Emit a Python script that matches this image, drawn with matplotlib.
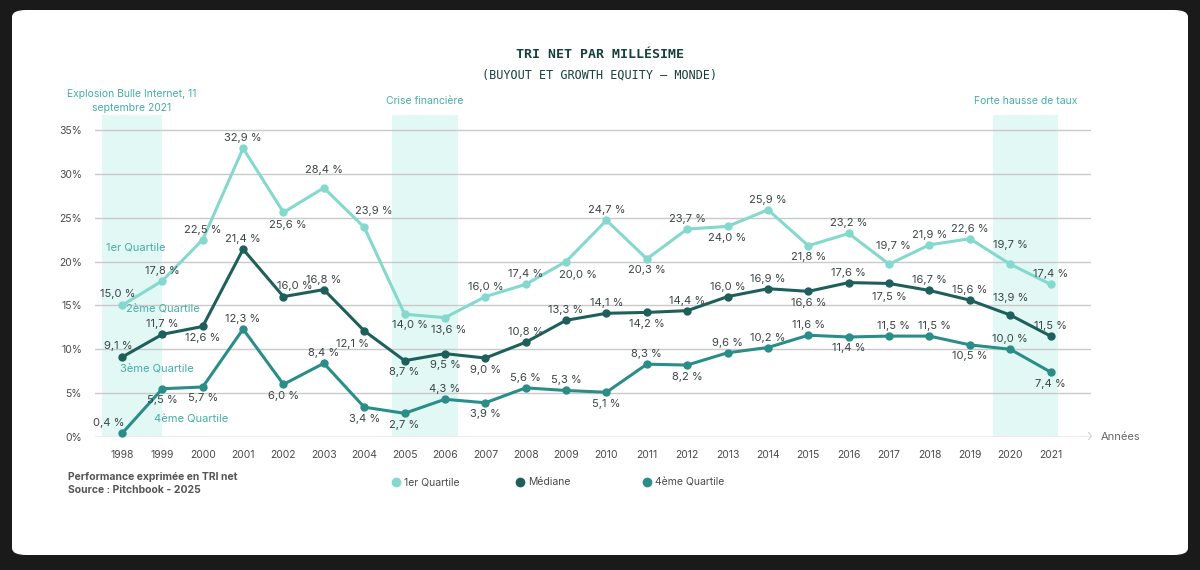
import matplotlib.pyplot as plt
from matplotlib.patches import FancyBboxPatch
from matplotlib.lines import Line2D

years = list(range(1998, 2022))

q1 = [15.0, 17.8, 22.5, 32.9, 25.6, 28.4, 23.9, 14.0, 13.6, 16.0, 17.4, 20.0,
      24.7, 20.3, 23.7, 24.0, 25.9, 21.8, 23.2, 19.7, 21.9, 22.6, 19.7, 17.4]
median = [9.1, 11.7, 12.6, 21.4, 16.0, 16.8, 12.1, 8.7, 9.5, 9.0, 10.8, 13.3,
          14.1, 14.2, 14.4, 16.0, 16.9, 16.6, 17.6, 17.5, 16.7, 15.6, 13.9, 11.5]
q4 = [0.4, 5.5, 5.7, 12.3, 6.0, 8.4, 3.4, 2.7, 4.3, 3.9, 5.6, 5.3,
      5.1, 8.3, 8.2, 9.6, 10.2, 11.6, 11.4, 11.5, 11.5, 10.5, 10.0, 7.4]

# where the value label goes: a = above, b = below
q1_pos = "aaaabaabbaababababaaaaaa"
median_pos = "aabaaabbbbaaabaaababaaaa"
q4_pos = "abbababbabaababaaabaabab"

# labels nudged away from the lines: (series, year) -> (dx, dy) in pixels
label_nudge = {
    (0, 2002): (4, -13), (0, 2003): (0, 18), (0, 2004): (10, 16),
    (0, 2009): (12, -13), (0, 2017): (4, 18), (0, 2020): (0, 19),
    (0, 2005): (5, -11), (0, 2006): (4, -12), (0, 1998): (-4, 11),
    (1, 2002): (11, 11), (1, 2004): (-12, -13), (1, 2020): (0, 17),
    (1, 2017): (0, -14), (1, 1998): (-4, 11),
    (2, 1998): (-13, 10), (2, 2017): (4, 10), (2, 2018): (5, 10),
}

series_names = ["1er Quartile", "Médiane", "4ème Quartile"]
yticks = [0, 5, 10, 15, 20, 25, 30, 35]

# shaded periods (start, end in year units) and their captions
bands = [(1997.5, 1998.98, "Explosion Bulle Internet, 11\nseptembre 2021"),
         (2004.68, 2006.32, "Crise financière"),
         (2019.58, 2021.19, "Forte hausse de taux")]

inner_labels = [("1er Quartile", 1998.33, 21.65),
                ("2ème Quartile", 1999.01, 14.5),
                ("3ème Quartile", 1998.87, 7.75),
                ("4ème Quartile", 1999.71, 2.05)]

c_q1 = "#84d8cd"
c_med = "#1f5f5b"
c_q4 = "#2a8d88"
c_txt = "#3c4444"
c_note = "#45aea3"
c_band = "#e2f8f5"
FONT = "Inter"

fig = plt.figure(figsize=(12, 5.7), dpi=100)
fig.patch.set_facecolor("#1a1a1a")

card = FancyBboxPatch((12 / 1200, 15 / 570), 1176 / 1200, 545 / 570,
                      boxstyle="round,pad=0,rounding_size=0.012",
                      transform=fig.transFigure, facecolor="white",
                      edgecolor="none", zorder=-5)
fig.patches.append(card)

ax = fig.add_axes([94.5 / 1200, 133 / 570, 996.5 / 1200, 322 / 570])
ax.set_facecolor("none")
ax.set_xlim(1997.32, 2022.0)
ax.set_ylim(0, 36.7)

for s in ax.spines.values():
    s.set_visible(False)

# grid lines
for t in yticks[1:]:
    ax.axhline(t, color="#c9c9c9", lw=1, zorder=1)
ax.axhline(0, color="#ececec", lw=1.5, zorder=1)
ax.text(2021.95, 0, "›", color="#d5d5d5", fontsize=11, ha="center",
        va="center", family=FONT)
ax.text(2022.72, 0, "Années", color="#666666", fontsize=8, ha="center",
        va="center", family=FONT)

for a, b, note in bands:
    ax.axvspan(a, b, ymin=0, ymax=1, color=c_band, lw=0, zorder=0)
    ax.text((a + b) / 2, 38.3, note, color=c_note, fontsize=7.5,
            ha="center", va="center", family=FONT, linespacing=1.45)

for k, (vals, pos, col) in enumerate([(q1, q1_pos, c_q1),
                                      (median, median_pos, c_med),
                                      (q4, q4_pos, c_q4)]):
    ax.plot(years, vals, color=col, lw=2.2, marker="o", ms=5, zorder=3,
            solid_joinstyle="round")
    for x, v, p in zip(years, vals, pos):
        dx, dy = label_nudge.get((k, x), (0, 10 if p == "a" else -11.5))
        ax.annotate(f"{v:.1f} %".replace(".", ","), (x, v),
                    xytext=(dx, dy), textcoords="offset pixels",
                    ha="center", va="center", fontsize=8, color=c_txt,
                    family=FONT, zorder=4)

for txt, x, y in inner_labels:
    ax.text(x, y, txt, color=c_note, fontsize=8, ha="center", va="center",
            family=FONT)

ax.set_yticks(yticks)
ax.set_yticklabels([f"{t}%" for t in yticks])
ax.set_xticks(years)
ax.set_xticklabels([str(y) for y in years])
ax.tick_params(axis="both", length=0, labelsize=7.5, labelcolor="#4a4a4a")
ax.tick_params(axis="x", pad=9)
ax.tick_params(axis="y", pad=9)
for lab in ax.get_xticklabels() + ax.get_yticklabels():
    lab.set_family(FONT)

# title
fig.text(0.5, 1 - 55 / 570, "TRI NET PAR MILLÉSIME", ha="center", va="center",
         fontsize=9.5, fontweight="bold", family="DejaVu Sans Mono",
         color="#16403c")
fig.text(0.5, 1 - 75 / 570, "(BUYOUT ET GROWTH EQUITY – MONDE)", ha="center",
         va="center", fontsize=8.5, family="DejaVu Sans Mono", color="#16403c")

# footnote
fig.text(68 / 1200, 1 - 477 / 570, "Performance exprimée en TRI net",
         fontsize=7.5, fontweight="bold", color="#555555", family=FONT,
         va="center")
fig.text(68 / 1200, 1 - 490 / 570, "Source : Pitchbook - 2025",
         fontsize=7.5, fontweight="bold", color="#555555", family=FONT,
         va="center")

# legend
for name, col, lx in zip(series_names, [c_q1, c_med, c_q4],
                         [396, 520, 647]):
    fig.add_artist(Line2D([lx / 1200], [1 - 482 / 570], marker="o", ms=6,
                          color=col, lw=0, transform=fig.transFigure))
    fig.text((lx + 8) / 1200, 1 - 482 / 570, name, fontsize=7.5,
             color="#4a4a4a", family=FONT, va="center")

fig.savefig("out.png", dpi=100, facecolor=fig.get_facecolor())
